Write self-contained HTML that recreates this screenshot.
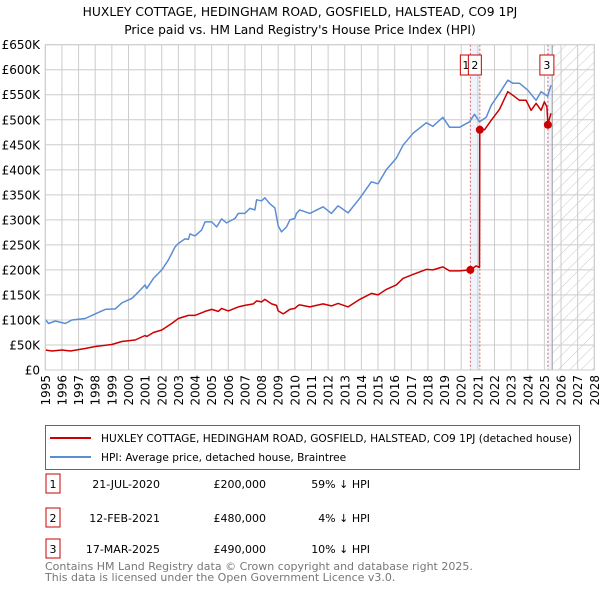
<!DOCTYPE html>
<html><head><meta charset="utf-8"><style>
body{margin:0;background:#fff;font-family:"Liberation Sans","DejaVu Sans",sans-serif;}
svg{display:block}
</style></head><body>
<svg id="chart" width="600" height="590" viewBox="0 0 600 590" xmlns="http://www.w3.org/2000/svg" font-family="DejaVu Sans, Liberation Sans, sans-serif">
<defs>
<pattern id="hatch" width="8" height="8" patternUnits="userSpaceOnUse" patternTransform="rotate(45)">
<line x1="0" y1="0" x2="0" y2="8" stroke="#c8c8c8" stroke-width="1"/>
</pattern>
</defs>
<text x="300" y="16" text-anchor="middle" font-size="12.3" fill="#000">HUXLEY COTTAGE, HEDINGHAM ROAD, GOSFIELD, HALSTEAD, CO9 1PJ</text>
<text x="300" y="34" text-anchor="middle" font-size="12.3" fill="#000">Price paid vs. HM Land Registry's House Price Index (HPI)</text>
<g id="plot"></g>
<g>
<rect x="45.5" y="425.5" width="534" height="44" fill="#fff" stroke="#666"/>
<line x1="50" y1="438" x2="91" y2="438" stroke="#cc0000" stroke-width="2"/>
<text x="101" y="442" font-size="10.6" textLength="471">HUXLEY COTTAGE, HEDINGHAM ROAD, GOSFIELD, HALSTEAD, CO9 1PJ (detached house)</text>
<line x1="50" y1="457" x2="91" y2="457" stroke="#5b8dd6" stroke-width="2"/>
<text x="101" y="461" font-size="10.6">HPI: Average price, detached house, Braintree</text>
</g>
<g font-size="11">
<g>
<rect x="46" y="474" width="14" height="19" fill="#fff" stroke="#cc0000"/>
<text x="53" y="488" text-anchor="middle">1</text>
<text x="160" y="488" text-anchor="end">21-JUL-2020</text>
<text x="266" y="488" text-anchor="end">£200,000</text>
<text x="370" y="488" text-anchor="end">59% ↓ HPI</text>
</g>
<g>
<rect x="46" y="508" width="14" height="19" fill="#fff" stroke="#cc0000"/>
<text x="53" y="522" text-anchor="middle">2</text>
<text x="160" y="522" text-anchor="end">12-FEB-2021</text>
<text x="266" y="522" text-anchor="end">£480,000</text>
<text x="370" y="522" text-anchor="end">4% ↓ HPI</text>
</g>
<g>
<rect x="46" y="539" width="14" height="19" fill="#fff" stroke="#cc0000"/>
<text x="53" y="553" text-anchor="middle">3</text>
<text x="160" y="553" text-anchor="end">17-MAR-2025</text>
<text x="266" y="553" text-anchor="end">£490,000</text>
<text x="370" y="553" text-anchor="end">10% ↓ HPI</text>
</g>
</g>
<text x="45" y="570" font-size="11" fill="#777">Contains HM Land Registry data © Crown copyright and database right 2025.</text>
<text x="45" y="581" font-size="11" fill="#777">This data is licensed under the Open Government Licence v3.0.</text>
</svg>
<script>
const hpiYears=[1995,1995.2,1995.6,1996.2,1996.6,1997.4,1998,1998.6,1999.2,1999.6,2000.2,2000.6,2001,2001.1,2001.5,2002,2002.4,2002.8,2003,2003.4,2003.6,2003.7,2004,2004.4,2004.6,2005,2005.3,2005.6,2005.9,2006.4,2006.6,2007,2007.3,2007.6,2007.7,2008,2008.2,2008.5,2008.8,2009,2009.2,2009.5,2009.7,2010,2010.1,2010.3,2010.9,2011.7,2012.2,2012.6,2013.2,2013.9,2014.6,2015,2015.5,2016.1,2016.5,2017.1,2017.9,2018.3,2018.9,2019.3,2019.9,2020.5,2020.8,2021.1,2021.5,2021.8,2022.3,2022.8,2023.1,2023.5,2024,2024.5,2024.8,2025.2,2025.4];
const hpiValues=[101,93,98,93,100,103,112,121,122,134,143,156,170,163,183,200,220,246,253,262,261,272,268,280,296,296,286,302,294,303,313,313,323,320,340,338,344,332,324,288,276,286,300,303,313,320,313,326,313,328,314,343,376,372,400,423,449,473,494,487,505,485,485,496,511,496,505,529,553,579,573,573,559,539,556,547,569];
const priceYears=[1995,1995.4,1996,1996.5,1997.4,1998,1999,1999.6,2000.4,2001,2001.1,2001.5,2002,2002.6,2003,2003.6,2004,2004.6,2005,2005.4,2005.6,2006,2006.6,2007,2007.5,2007.7,2008,2008.2,2008.6,2008.9,2009,2009.3,2009.7,2010,2010.2,2010.3,2010.9,2011.7,2012.2,2012.6,2013.2,2013.9,2014.6,2015,2015.5,2016.1,2016.5,2017.1,2017.9,2018.3,2018.9,2019.3,2019.9,2020.55,2020.9,2021.1,2021.12,2021.4,2021.8,2022.3,2022.8,2023.1,2023.5,2023.9,2024.2,2024.5,2024.8,2025,2025.15,2025.21,2025.4];
const priceValues=[40,38,40,38,43,47,51,57,60,69,67,75,80,93,103,109,109,117,121,117,123,118,126,129,132,138,136,141,132,129,118,112,121,123,129,130,126,132,128,133,126,141,153,150,161,170,183,191,201,200,206,198,198,200,208,205,481,480,499,521,556,549,539,539,519,533,519,536,526,491,513];
const saleYears=[2020.55,2021.12,2025.21];
const saleValues=[200,480,490];
const saleLabels=["1","2","3"];
const yTicks=[0,50,100,150,200,250,300,350,400,450,500,550,600,650];
const yTickLabels=["£0","£50K","£100K","£150K","£200K","£250K","£300K","£350K","£400K","£450K","£500K","£550K","£600K","£650K"];
const xTicks=[1995,1996,1997,1998,1999,2000,2001,2002,2003,2004,2005,2006,2007,2008,2009,2010,2011,2012,2013,2014,2015,2016,2017,2018,2019,2020,2021,2022,2023,2024,2025,2026,2027,2028];
const forecastStart=2025.47;

const L=45.3,R=594.3,T=44.7,B=370;
const X=y=>L+(y-1995)/33*(R-L);
const Y=v=>B-v/650*(B-T);
const NS="http://www.w3.org/2000/svg";
const g=document.getElementById('plot');
function mk(tag,attrs,parent){const e=document.createElementNS(NS,tag);for(const k in attrs)e.setAttribute(k,attrs[k]);(parent||g).appendChild(e);return e;}

let b=mk('rect',{x:X(saleYears[0]),y:T,width:X(saleYears[1])-X(saleYears[0]),height:B-T,fill:'#eef3fc'});


b=mk('rect',{x:X(saleYears[2]),y:T,width:X(forecastStart)-X(saleYears[2]),height:B-T,fill:'#eef3fc'});


b=mk('rect',{x:X(forecastStart),y:T,width:R-X(forecastStart),height:B-T,fill:'url(#hatch)'});



yTicks.forEach((v,i)=>{
  const l=mk('line',{x1:L,x2:R,y1:Y(v),y2:Y(v),stroke:'#cccccc','stroke-width':1});
  
  
  const t=mk('text',{x:40,y:Y(v)+4.5,'text-anchor':'end','font-size':12});
  t.textContent=yTickLabels[i];
  
  
});
xTicks.forEach(yr=>{
  const l=mk('line',{x1:X(yr),x2:X(yr),y1:T,y2:B,stroke:'#cccccc','stroke-width':1});
  
  
  const t=mk('text',{x:0,y:0,'font-size':12,'text-anchor':'end',transform:`translate(${X(yr)+4.5},375) rotate(-90)`});
  t.textContent=yr;
  
  
});
let fl=mk('line',{x1:X(forecastStart),x2:X(forecastStart),y1:T,y2:B,stroke:'#999','stroke-width':1});



saleYears.forEach((yr,i)=>{
  const l=mk('line',{x1:X(yr),x2:X(yr),y1:T,y2:B,stroke:'#e06060','stroke-width':1,'stroke-dasharray':'2,2'});
  
  
});

const path=(xs,vs)=>xs.map((x,i)=>(i?'L':'M')+X(x).toFixed(1)+','+Y(vs[i]).toFixed(1)).join('');
let p=mk('path',{d:path(hpiYears,hpiValues),fill:'none',stroke:'#5b8dd6','stroke-width':1.5,'stroke-linejoin':'round'});


p=mk('path',{d:path(priceYears,priceValues),fill:'none',stroke:'#cc0000','stroke-width':1.5,'stroke-linejoin':'round'});



saleYears.forEach((yr,i)=>{
  const c=mk('circle',{cx:X(yr),cy:Y(saleValues[i]),r:4,fill:'#cc0000'});
  
  
});
const badgeX=[X(saleYears[0])-10,X(saleYears[1])-11.5,X(saleYears[2])-8];
const badgeW=[11,13,14];
saleLabels.forEach((s,i)=>{
  const r=mk('rect',{x:badgeX[i],y:55,width:badgeW[i],height:20,fill:'#fff',stroke:'#cc0000'});
  
  
  const t=mk('text',{x:badgeX[i]+badgeW[i]/2,y:69,'text-anchor':'middle','font-size':11});
  t.textContent=s;
  
  
});
let fr=mk('rect',{x:L,y:T,width:R-L,height:B-T,fill:'none',stroke:'#cccccc'});


</script>
</body></html>
